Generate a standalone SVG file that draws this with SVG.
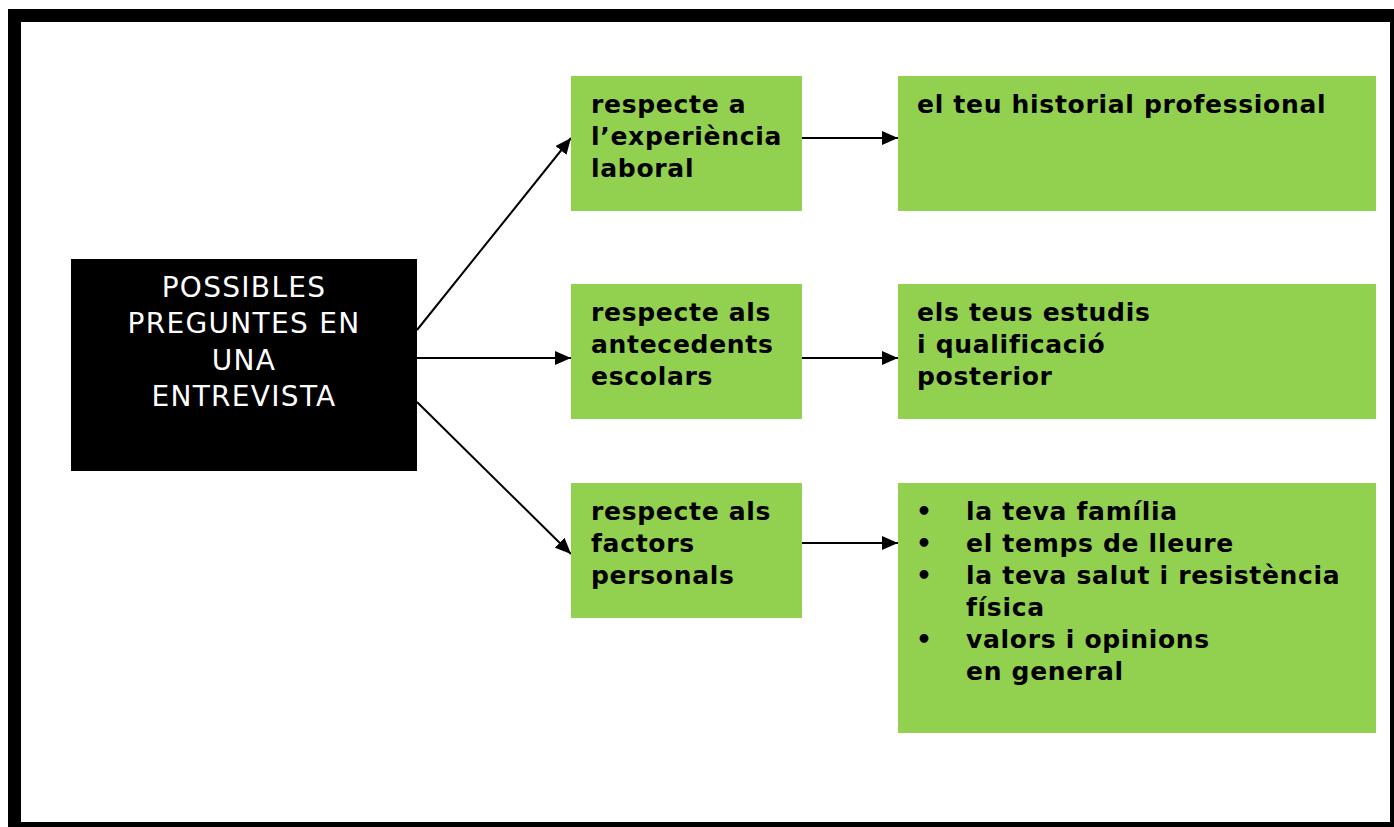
<svg xmlns="http://www.w3.org/2000/svg" width="1394" height="827" viewBox="0 0 1394 827">
<style>
.g{fill:#92D050;}
.t{font-family:"DejaVu Sans",Verdana,sans-serif;font-weight:bold;font-size:25px;letter-spacing:0.7px;fill:#000;}
.w{font-family:"DejaVu Sans",Verdana,sans-serif;font-size:28px;letter-spacing:1.3px;fill:#fff;text-anchor:middle;}
.c{stroke:#000;stroke-width:2;fill:none;marker-end:url(#ah);}
</style>
<defs>
<marker id="ah" viewBox="0 0 16 14" refX="16" refY="7" markerWidth="16" markerHeight="14" markerUnits="userSpaceOnUse" orient="auto">
<path d="M0,0 L16,7 L0,14 Z" fill="#000"/>
</marker>
</defs>
<rect x="0" y="0" width="1394" height="827" fill="#fff"/>
<rect x="8" y="9" width="1390" height="822" fill="#000"/>
<rect x="21" y="22" width="1369" height="800" fill="#fff"/>
<g id="connectors">
<line class="c" x1="417" y1="330" x2="571" y2="138"/>
<line class="c" x1="417" y1="358" x2="571" y2="358"/>
<line class="c" x1="417" y1="402" x2="571" y2="554"/>
<line class="c" x1="802" y1="138" x2="898" y2="138"/>
<line class="c" x1="802" y1="358" x2="898" y2="358"/>
<line class="c" x1="802" y1="543" x2="898" y2="543"/>
</g>
<g id="root">
<rect x="71" y="259" width="346" height="212" fill="#000"/>
<text class="w" x="244" y="297">POSSIBLES</text>
<text class="w" x="244" y="333">PREGUNTES EN</text>
<text class="w" x="244" y="370">UNA</text>
<text class="w" x="244" y="406">ENTREVISTA</text>
</g>
<g id="experiencia">
<rect class="g" x="571" y="76" width="231" height="135"/>
<text class="t" x="591" y="113">respecte a</text>
<text class="t" x="591" y="145">l’experiència</text>
<text class="t" x="591" y="177">laboral</text>
</g>
<g id="escolars">
<rect class="g" x="571" y="284" width="231" height="135"/>
<text class="t" x="591" y="321">respecte als</text>
<text class="t" x="591" y="353">antecedents</text>
<text class="t" x="591" y="385">escolars</text>
</g>
<g id="personals">
<rect class="g" x="571" y="483" width="231" height="135"/>
<text class="t" x="591" y="520">respecte als</text>
<text class="t" x="591" y="552">factors</text>
<text class="t" x="591" y="584">personals</text>
</g>
<g id="historial">
<rect class="g" x="898" y="76" width="478" height="135"/>
<text class="t" x="917" y="113">el teu historial professional</text>
</g>
<g id="estudis">
<rect class="g" x="898" y="284" width="478" height="135"/>
<text class="t" x="917" y="321">els teus estudis</text>
<text class="t" x="917" y="353">i qualificació</text>
<text class="t" x="917" y="385">posterior</text>
</g>
<g id="factors">
<rect class="g" x="898" y="483" width="478" height="250"/>
<text class="t" x="916" y="520">•</text>
<text class="t" x="966" y="520">la teva família</text>
<text class="t" x="916" y="552">•</text>
<text class="t" x="966" y="552">el temps de lleure</text>
<text class="t" x="916" y="584">•</text>
<text class="t" x="966" y="584">la teva salut i resistència</text>
<text class="t" x="966" y="616">física</text>
<text class="t" x="916" y="648">•</text>
<text class="t" x="966" y="648">valors i opinions</text>
<text class="t" x="966" y="680">en general</text>
</g>
</svg>
